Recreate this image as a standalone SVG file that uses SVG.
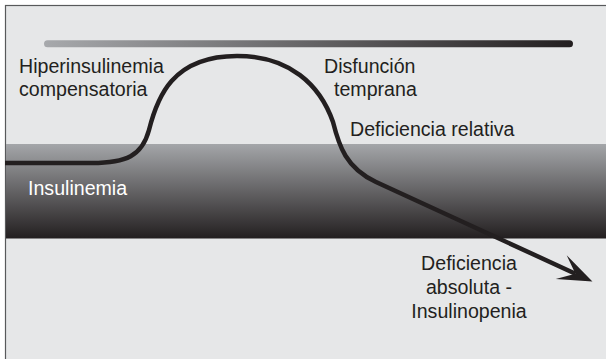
<svg xmlns="http://www.w3.org/2000/svg" width="606" height="359" viewBox="0 0 606 359">
  <defs>
    <linearGradient id="bandFill" x1="0" y1="0" x2="0" y2="1">
      <stop offset="0" stop-color="#a4a6a9"/>
      <stop offset="1" stop-color="#231f20"/>
    </linearGradient>
    <linearGradient id="barFill" x1="0" y1="0" x2="1" y2="0">
      <stop offset="0" stop-color="#a7a9ac"/>
      <stop offset="1" stop-color="#231f20"/>
    </linearGradient>
    <!-- barbed arrowhead; reference point sits at the notch -->
    <marker id="arrowHead" markerUnits="userSpaceOnUse" markerWidth="40" markerHeight="40" refX="0" refY="0" viewBox="-15 -15 32 30" orient="auto" overflow="visible">
      <path d="M15,0 L-12.5,-10.5 L0,0 L-12.5,10.5 Z" fill="#231f20"/>
    </marker>
    <style>
      .lbl { font-family: "Liberation Sans", Arial, sans-serif; font-size: 19.6px; fill: #231f20; }
      .lbl-light { fill: #ffffff; }
      .mid { text-anchor: middle; }
      .curve { fill: none; stroke: #231f20; stroke-width: 4.5; stroke-linecap: butt; stroke-linejoin: round; }
    </style>
  </defs>

  <!-- page -->
  <rect x="0" y="0" width="606" height="359" fill="#ffffff"/>
  <rect x="5.5" y="5.5" width="610" height="360" fill="#e6e7e8" stroke="#58595b" stroke-width="1.2"/>

  <!-- insulin level band -->
  <rect id="band" x="6" y="144" width="600" height="94.5" fill="url(#bandFill)"/>

  <!-- progression bar -->
  <g id="progress-bar">
    <rect x="44" y="40.3" width="529" height="7" rx="3.5" fill="url(#barFill)"/>
  </g>

  <!-- insulin curve -->
  <g id="connectors">
    <path class="curve" marker-end="url(#arrowHead)"
          d="M5,163 L92,163 C126,163 142,156 149,130 C157,98 172,56 237,56 C290,56 320,85 333,122 C339,146 346,168 376,182 L575.4,273.7"/>
  </g>

  <!-- labels -->
  <g id="hiperinsulinemia">
    <text class="lbl" x="19" y="73">Hiperinsulinemia</text>
    <text class="lbl" x="19" y="96">compensatoria</text>
  </g>
  <g id="disfuncion">
    <text class="lbl" x="324" y="73">Disfunción</text>
    <text class="lbl" x="334" y="96">temprana</text>
  </g>
  <g id="deficiencia-relativa">
    <text class="lbl" x="350" y="136">Deficiencia relativa</text>
  </g>
  <g id="insulinemia">
    <text class="lbl lbl-light" x="28" y="195">Insulinemia</text>
  </g>
  <g id="deficiencia-absoluta">
    <text class="lbl mid" x="469" y="270">Deficiencia</text>
    <text class="lbl mid" x="469" y="294">absoluta -</text>
    <text class="lbl mid" x="469" y="317.5">Insulinopenia</text>
  </g>
</svg>
